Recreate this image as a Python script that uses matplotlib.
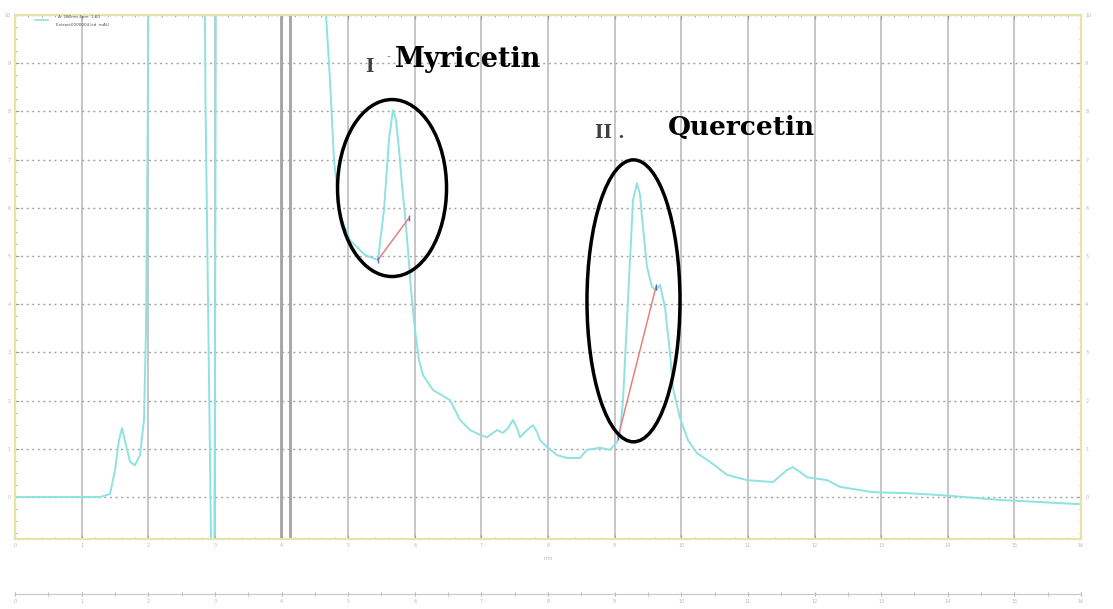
import matplotlib
matplotlib.use("Agg")
import matplotlib.pyplot as plt
from matplotlib.patches import Ellipse
from matplotlib.ticker import MultipleLocator


# retention time (min) and detector signal of the chromatogram trace
# (values above 10 or below -0.87 are off scale and get clipped by the axes)
times = [
    0.0, 0.675, 1.276, 1.426, 1.501, 1.561, 1.606, 1.666, 1.726, 1.801,
    1.876, 1.936, 1.966, 1.989, 2.011, 2.84, 2.859, 2.897, 2.942, 2.957,
    2.987, 3.002, 3.017, 4.638, 4.668, 4.728, 4.788, 4.878, 5.028, 5.253,
    5.448, 5.538, 5.613, 5.673, 5.718, 5.764, 5.809, 5.854, 5.899, 5.944,
    6.004, 6.064, 6.124, 6.274, 6.529, 6.679, 6.829, 6.979, 7.084, 7.235,
    7.325, 7.40, 7.475, 7.535, 7.580, 7.685, 7.775, 7.835, 7.880, 7.985,
    8.135, 8.285, 8.480, 8.586, 8.781, 8.931, 9.036, 9.081, 9.126, 9.201,
    9.276, 9.336, 9.381, 9.411, 9.486, 9.561, 9.621, 9.681, 9.756, 9.831,
    9.876, 9.981, 10.101, 10.236, 10.432, 10.687, 10.987, 11.377, 11.587,
    11.677, 11.782, 11.887, 12.188, 12.383, 12.878, 13.388, 13.884, 14.784,
    16.0,
]
signal = [
    0.0, 0.0, 0.0, 0.06, 0.56, 1.18, 1.43, 1.08, 0.73, 0.66,
    0.87, 1.60, 3.46, 7.2, 12.0, 12.0, 8.24, 4.09, -0.89, -2.1,
    -2.1, 2.01, 12.0, 12.0, 10.0, 8.65, 6.99, 5.85, 5.33, 5.02,
    4.92, 5.95, 7.41, 8.03, 7.82, 7.2, 6.47, 5.85, 5.12, 4.29,
    3.46, 2.84, 2.53, 2.22, 2.01, 1.60, 1.39, 1.29, 1.24, 1.39,
    1.33, 1.43, 1.60, 1.43, 1.24, 1.39, 1.49, 1.35, 1.18, 1.04,
    0.87, 0.81, 0.81, 0.98, 1.02, 0.98, 1.14, 1.35, 2.01, 4.09,
    6.16, 6.51, 6.27, 5.81, 4.77, 4.36, 4.29, 4.40, 3.94, 2.99,
    2.26, 1.64, 1.18, 0.91, 0.73, 0.46, 0.35, 0.31, 0.56,
    0.62, 0.52, 0.41, 0.35, 0.21, 0.10, 0.08, 0.04, -0.06,
    -0.15,
]

# integration baselines (start, end) of the two identified peaks
myricetin_base_t = [5.448, 5.914]
myricetin_base_y = [4.92, 5.79]
quercetin_base_t = [9.051, 9.621]
quercetin_base_y = [1.24, 4.36]

# event marker lines on the time axis
event_times = [3.993, 4.128]

# highlighted peaks: centre (t, y), width, height
peak_names = ["Myricetin", "Quercetin"]
peak_numbers = ["I", "II ."]
peak_centres = [(5.659, 6.41), (9.283, 4.07)]
peak_widths = [1.636, 1.396]
peak_heights = [3.672, 5.85]

x_ticks = list(range(0, 17))
y_ticks = list(range(0, 11))

TRACE = "#8ee2e2"
GRID = "#c2c2c2"
BORDER = "#e4e4a8"
FAINT = "#b8b8b8"


def draw_grid(ax):
    """Solid vertical grid lines, dotted horizontal ones."""
    for t in x_ticks:
        ax.axvline(t, color=GRID, lw=1.3, zorder=1)
    for v in y_ticks:
        ax.axhline(v, color="#a4a4a4", lw=1.0, ls=(0, (1.5, 2.5)), zorder=1)
    for t in event_times:
        ax.axvline(t, color="#a4a4a4", lw=2.0, zorder=1)


def draw_peaks(ax):
    """Integration baselines, circled peaks and their names."""
    for bt, by in [(myricetin_base_t, myricetin_base_y),
                   (quercetin_base_t, quercetin_base_y)]:
        ax.plot(bt, by, color="#e88080", lw=1.1, zorder=3)
        ax.plot(bt[1], by[1], marker="|", color="#6a6ab0", ms=5, zorder=3)
        ax.plot(bt[0], by[0], marker="|", color="#6a6ab0", ms=4, zorder=3)

    for centre, w, h in zip(peak_centres, peak_widths, peak_heights):
        ax.add_patch(Ellipse(centre, w, h, fill=False, ec="black",
                             lw=2.5, zorder=4))

    ax.text(5.26, 8.92, peak_numbers[0], fontsize=13, fontweight="bold",
            family="DejaVu Serif", color="#404040", va="center", ha="left")
    ax.text(5.58, 9.15, "-", fontsize=8, color="#808080", va="center")
    ax.text(5.704, 9.07, peak_names[0], fontsize=19.5, fontweight="bold",
            family="DejaVu Serif", va="center", ha="left")
    ax.text(8.70, 7.55, peak_numbers[1], fontsize=13, fontweight="bold",
            family="DejaVu Serif", color="#404040", va="center", ha="left")
    ax.text(9.80, 7.66, peak_names[1], fontsize=19, fontweight="bold",
            family="DejaVu Serif", va="center", ha="left")


def main():
    fig = plt.figure(figsize=(11.13, 6.09), dpi=100)
    ax = fig.add_axes([15 / 1113, 70 / 609, 1066 / 1113, 524 / 609])

    ax.set_xlim(0, 16)
    ax.set_ylim(-0.871, 10.0)
    draw_grid(ax)

    ax.plot(times, signal, color=TRACE, lw=1.4, zorder=2)
    draw_peaks(ax)

    # tiny header with the trace legend
    ax.plot([0.3, 0.5], [9.9, 9.9], color=TRACE, lw=1.2, clip_on=False)
    ax.text(0.65, 9.93, "A: 280nm 4nm  1.00", fontsize=3, color="#505050")
    ax.text(0.62, 9.78, "Extract0000004.lcd  mAU", fontsize=3,
            color="#505050")

    for side in ["left", "right", "top", "bottom"]:
        ax.spines[side].set_color(BORDER)
        ax.spines[side].set_linewidth(1.6)

    ax.set_xticks(x_ticks)
    ax.set_yticks(y_ticks)
    ax.xaxis.set_minor_locator(MultipleLocator(0.2))
    ax.yaxis.set_minor_locator(MultipleLocator(0.25))
    ax.tick_params(which="both", direction="in", color="#a0a0a0",
                   labelcolor=FAINT, labelsize=3.5, right=True, top=True,
                   labelright=True, length=3, pad=3)
    ax.tick_params(which="minor", length=1.5)
    ax.set_xlabel("min", fontsize=3.5, color=FAINT, labelpad=6)

    # second time ruler under the chart
    ruler = fig.add_axes([15 / 1113, 15 / 609, 1066 / 1113, 0.0001])
    ruler.set_xlim(0, 16)
    ruler.set_yticks([])
    ruler.set_xticks(x_ticks)
    ruler.xaxis.set_minor_locator(MultipleLocator(0.5))
    for side in ["left", "right", "top"]:
        ruler.spines[side].set_visible(False)
    ruler.spines["bottom"].set_color("#c8c8c8")
    ruler.tick_params(which="both", direction="inout", color="#b0b0b0",
                      labelcolor=FAINT, labelsize=3.5, length=3, pad=2)

    fig.savefig("out.png", dpi=100, facecolor="white")


if __name__ == "__main__":
    main()
